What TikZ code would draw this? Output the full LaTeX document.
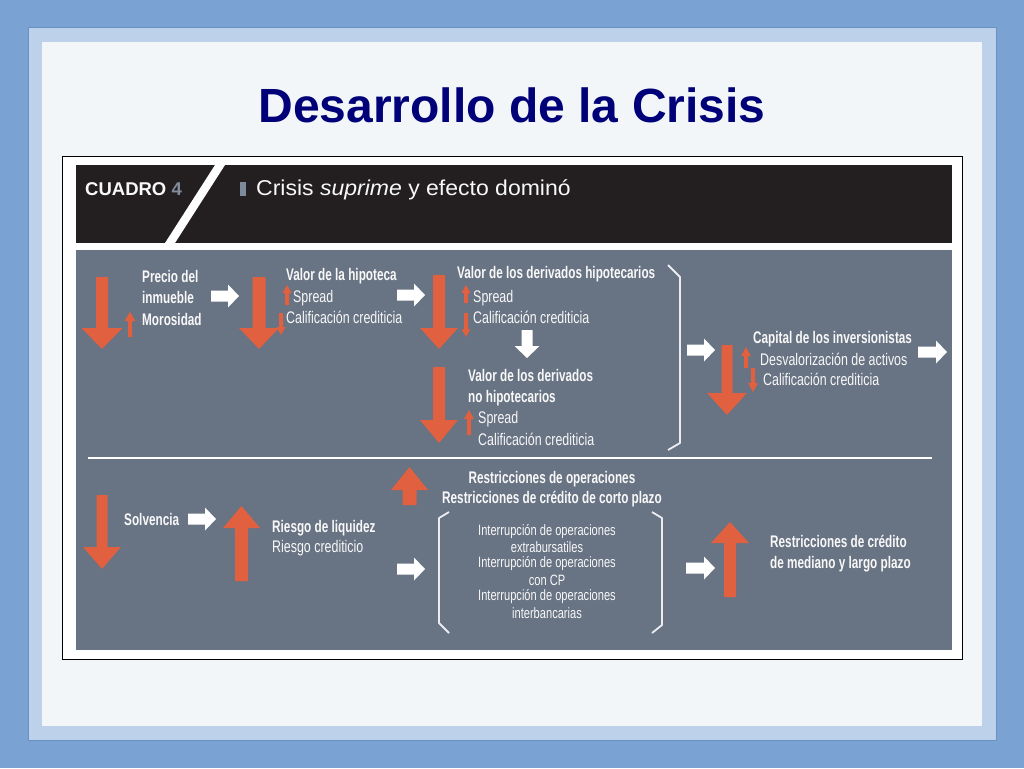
\documentclass[tikz,border=0pt]{standalone}
\usepackage{fontspec}
\setmainfont{Liberation Sans}
\newfontfamily\condr[FakeStretch=0.74]{Liberation Sans}
\newfontfamily\condb[FakeStretch=0.70]{Liberation Sans}
\newfontfamily\widef[FakeStretch=1.07]{Liberation Sans}
\definecolor{bgblue}{RGB}{122,163,211}
\definecolor{frlight}{RGB}{189,209,235}
\definecolor{fredge}{RGB}{105,145,198}
\definecolor{innerbg}{RGB}{243,246,248}
\definecolor{navy}{RGB}{0,0,120}
\definecolor{hdrblack}{RGB}{35,31,32}
\definecolor{panel}{RGB}{104,115,131}
\definecolor{ora}{RGB}{224,96,64}
\definecolor{txtw}{RGB}{248,248,248}
\definecolor{numgray}{RGB}{130,140,155}
\definecolor{tagblue}{RGB}{125,138,156}
\definecolor{brk}{RGB}{235,237,240}
% block arrow: color, tail x, tail y, angle, length, shaft width, head width, head length
\newcommand{\barr}[8]{\fill[#1,shift={(#2,#3)},rotate=#4] (0,{-#6/2}) -- ({#5-#8},{-#6/2}) -- ({#5-#8},{-#7/2}) -- (#5,0) -- ({#5-#8},{#7/2}) -- ({#5-#8},{#6/2}) -- (0,{#6/2}) -- cycle;}
\tikzset{
  lbl/.style={anchor=base west, inner sep=0pt, text=txtw},
  bl/.style={lbl, font=\condb\bfseries\fontsize{16.8}{19}\selectfont},
  rl/.style={lbl, font=\condr\fontsize{16.8}{19}\selectfont},
  sl/.style={anchor=base, inner sep=0pt, text=txtw, font=\condr\fontsize{15}{17}\selectfont},
  brline/.style={draw=brk, line width=1.8pt, line join=round},
}
\begin{document}
\begin{tikzpicture}[x=1pt,y=-1pt]
\useasboundingbox (0,0) rectangle (1024,768);
\fill[bgblue] (0,0) rectangle (1024,768);
\filldraw[fill=frlight, draw=fredge, line width=1pt] (28,28) rectangle (996,740);
\fill[innerbg] (42,42) rectangle (982,726);
\node[anchor=base, inner sep=0pt, text=navy, font=\bfseries\fontsize{48}{56}\selectfont] (title) at (512,122) {Desarrollo de la Crisis};
% figure box
\draw[black, fill=white, line width=1pt] (62,156) rectangle (962,659);
\fill[hdrblack] (76,165) rectangle (952,243);
\fill[white] (165,243) -- (175,243) -- (225,165) -- (215,165) -- cycle;
\node[anchor=base west, inner sep=0pt, text=txtw, font=\bfseries\fontsize{18.5}{22}\selectfont] (cuadro) at (85,195) {CUADRO \textcolor{numgray}{4}};
\fill[tagblue] (240,182) rectangle (246,196);
\node[anchor=base west, inner sep=0pt, text=txtw, font=\widef\fontsize{21.5}{24}\selectfont] (htitle) at (256,195) {Crisis \textit{suprime} y efecto dominó};
\fill[panel] (76,250) rectangle (952,650);
% ---- row 1 ----
\barr{ora}{102}{277}{-90}{72}{12}{41}{21}
\barr{ora}{130}{337}{90}{25}{4}{11}{9}
\node[bl] (t1) at (142,282) {Precio del};
\node[bl] (t2) at (142,303) {inmueble};
\node[bl] (t3) at (142,325) {Morosidad};
\barr{white}{211}{296}{0}{28}{11}{23}{11}
\barr{ora}{259}{277}{-90}{72}{13}{40}{21}
\barr{ora}{287}{305}{90}{20}{4}{9}{8}
\barr{ora}{281}{313}{-90}{22}{4}{9}{8}
\node[bl] (t4) at (286,280) {Valor de la hipoteca};
\node[rl] (t5) at (293,302) {Spread};
\node[rl] (t6) at (286,323) {Calificación crediticia};
\barr{white}{397}{295}{0}{28}{11}{23}{11}
\barr{ora}{439}{275}{-90}{74}{12}{38}{21}
\barr{ora}{466}{303}{90}{18}{4}{9}{8}
\barr{ora}{466}{313}{-90}{24}{4}{9}{8}
\node[bl] (t7) at (457,278) {Valor de los derivados hipotecarios};
\node[rl] (t8) at (473,302) {Spread};
\node[rl] (t9) at (473,323) {Calificación crediticia};
\barr{white}{527}{330}{-90}{28}{11}{25}{12}
\barr{ora}{439}{367}{-90}{76}{12}{38}{23}
\barr{ora}{469}{435}{90}{25}{4}{10}{9}
\node[bl] (t10) at (468,381) {Valor de los derivados};
\node[bl] (t11) at (468,402) {no hipotecarios};
\node[rl] (t12) at (478,423) {Spread};
\node[rl] (t13) at (478,445) {Calificación crediticia};
\draw[brline] (668,265) -- (680,277) -- (680,443) -- (668,450);
\barr{white}{687}{350}{0}{28}{11}{23}{11}
\barr{ora}{727}{345}{-90}{70}{11}{40}{22}
\barr{ora}{746}{368}{90}{21}{4}{10}{9}
\barr{ora}{753}{368}{-90}{24}{4}{10}{9}
\node[bl] (t14) at (753,343) {Capital de los inversionistas};
\node[rl] (t15) at (760,365) {Desvalorización de activos};
\node[rl] (t16) at (763,385) {Calificación crediticia};
\barr{white}{918}{352}{0}{29}{11}{23}{11}
% separator
\draw[white, line width=2pt] (88,458) -- (932,458);
% ---- row 2 ----
\barr{ora}{102}{495}{-90}{74}{11}{38}{22}
\node[bl] (t17) at (124,525) {Solvencia};
\barr{white}{188}{519}{0}{28}{11}{23}{11}
\barr{ora}{241.5}{581}{90}{75}{13}{37}{22}
\node[bl] (t18) at (272,532) {Riesgo de liquidez};
\node[rl] (t19) at (272,552) {Riesgo crediticio};
\barr{white}{397}{569}{0}{28}{11}{23}{11}
\barr{ora}{409.5}{505}{90}{38}{14}{37}{23}
\node[bl, anchor=base] (t20) at (552,483) {Restricciones de operaciones};
\node[bl, anchor=base] (t21) at (552,503) {Restricciones de crédito de corto plazo};
\draw[brline] (449,512) -- (439,518) -- (439,623) -- (449,633);
\draw[brline] (652,512) -- (662,518) -- (662,625) -- (652,633);
\node[sl] (b1) at (547,535) {Interrupción de operaciones};
\node[sl] (b2) at (547,552) {extrabursatiles};
\node[sl] (b3) at (547,567) {Interrupción de operaciones};
\node[sl] (b4) at (547,585) {con CP};
\node[sl] (b5) at (547,600) {Interrupción de operaciones};
\node[sl] (b6) at (547,618) {interbancarias};
\barr{white}{686}{568}{0}{29}{11}{23}{11}
\barr{ora}{730}{597}{90}{75}{12}{38}{21}
\node[bl] (t22) at (770,547) {Restricciones de crédito};
\node[bl] (t23) at (770,568) {de mediano y largo plazo};
\end{tikzpicture}
\end{document}
